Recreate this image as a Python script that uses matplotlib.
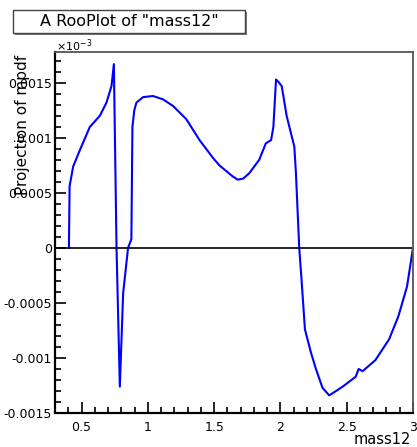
import numpy as np
import matplotlib
matplotlib.use("Agg")
import matplotlib.pyplot as plt
from matplotlib.patches import Rectangle
from matplotlib.ticker import MultipleLocator

# projected pdf over mass12
mass12 = [0.405, 0.41, 0.437, 0.488, 0.563, 0.638, 0.688, 0.726, 0.744,
          0.764, 0.789, 0.814, 0.851, 0.876, 0.884, 0.898, 0.914, 0.964, 1.039,
          1.114, 1.19, 1.29, 1.39, 1.44, 1.49, 1.54, 1.59, 1.64, 1.678, 1.72, 1.766, 1.84,
          1.89, 1.93, 1.947, 1.967, 1.984, 2.01, 2.047, 2.105, 2.117, 2.142,
          2.16, 2.185, 2.23, 2.268, 2.317, 2.368, 2.42, 2.47, 2.568, 2.59, 2.62,
          2.716, 2.82, 2.89, 2.955, 3.0]
proj = [0.0, 0.00056, 0.00074, 0.00089, 0.0011, 0.0012, 0.00132, 0.00147, 0.00167,
        0.0, -0.00126, -0.00041, 0.0, 0.00008, 0.0011, 0.00125, 0.00132, 0.00137, 0.00138,
        0.00135, 0.00129, 0.00117, 0.00098, 0.0009, 0.00082, 0.00075, 0.0007, 0.00065, 0.00062, 0.00063, 0.00068, 0.0008,
        0.00095, 0.00098, 0.0011, 0.00153, 0.00151, 0.00147, 0.0012, 0.00092, 0.00068, 0.0,
        -0.0003, -0.00074, -0.00095, -0.0011, -0.00127, -0.00134, -0.0013, -0.00126, -0.00117, -0.0011, -0.00112,
        -0.00102, -0.00083, -0.00062, -0.00035, 0.0]

yticks = [-0.0015, -0.001, -0.0005, 0, 0.0005, 0.001, 0.0015]
ytick_labels = ["-0.0015", "-0.001", "-0.0005", "0", "0.0005", "0.001", "0.0015"]
xticks = [0.5, 1, 1.5, 2, 2.5, 3]
xtick_labels = ["0.5", "1", "1.5", "2", "2.5", "3"]

W, H = 417, 447
fig = plt.figure(figsize=(W / 100, H / 100), dpi=100)
ax = fig.add_axes([55 / W, 1 - 413 / H, 358 / W, 361 / H])

ax.plot(mass12, proj, color="#0000ff", lw=1.5)
ax.axhline(0, color="black", lw=1.2)

ax.set_xlim(0.3, 3.0)
ax.set_ylim(-0.0015, 0.00178)

ax.set_xticks(xticks)
ax.set_xticklabels(xtick_labels)
ax.set_yticks(yticks)
ax.set_yticklabels(ytick_labels)
ax.xaxis.set_minor_locator(MultipleLocator(0.1))
ax.yaxis.set_minor_locator(MultipleLocator(0.0001))
ax.tick_params(which="both", direction="in", top=False, right=False, width=1.2, labelsize=9)
ax.tick_params(which="major", length=8)
ax.tick_params(which="minor", length=4)
ax.tick_params(axis="y", pad=2)
ax.tick_params(axis="x", pad=6)

for s in ("left", "bottom"):
    ax.spines[s].set_linewidth(1.6)
    ax.spines[s].set_color("black")
for s in ("top", "right"):
    ax.spines[s].set_linewidth(1.3)
    ax.spines[s].set_color("#555555")

fig.text(23 / W, 1 - 55 / H, "Projection of mpdf", rotation=90, ha="center", va="top", fontsize=11)
fig.text(411 / W, 1 - 440 / H, "mass12", ha="right", va="center", fontsize=10.5)
fig.text(56 / W, 1 - 46 / H, r"$\times$10$^{-3}$", ha="left", va="center", fontsize=8)

# title pave with shadow
fig.patches.append(Rectangle((15 / W, 1 - 35 / H), 232 / W, 23 / H, transform=fig.transFigure,
                             facecolor="#777777", edgecolor="none"))
fig.patches.append(Rectangle((13 / W, 1 - 33 / H), 232 / W, 23 / H, transform=fig.transFigure,
                             facecolor="white", edgecolor="#444444", lw=1.0))
fig.text(129 / W, 1 - 21.5 / H, 'A RooPlot of "mass12"', ha="center", va="center", fontsize=11.5)

fig.savefig("out.png", dpi=100)
